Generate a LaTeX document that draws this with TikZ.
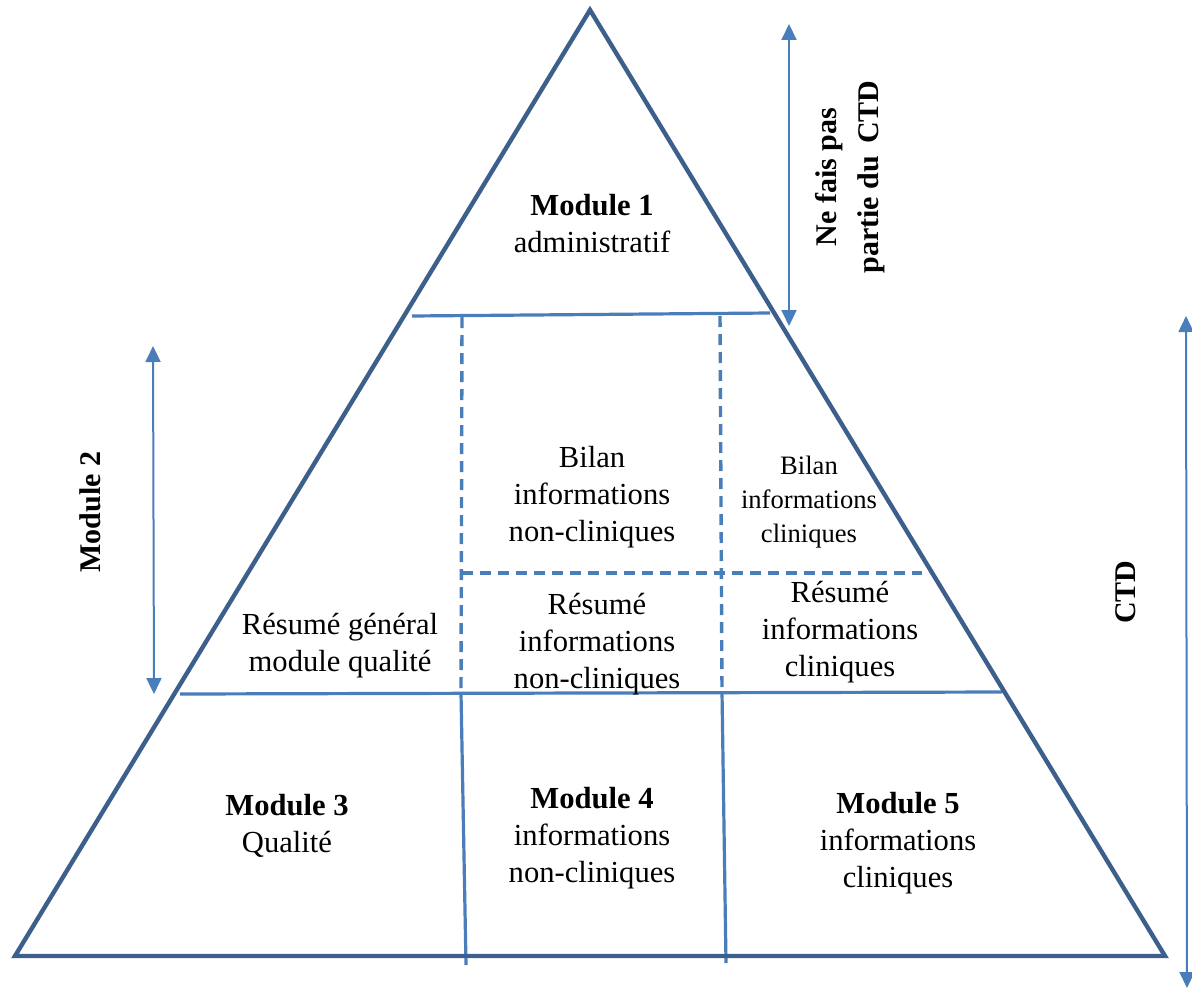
\documentclass[tikz,border=0pt]{standalone}
\usepackage{fontspec}
\setmainfont{Liberation Serif}
\usetikzlibrary{arrows.meta}
\definecolor{tri}{HTML}{3D5F8C}
\definecolor{inner}{HTML}{4A7EBB}
\tikzset{
  triline/.style={draw=tri, line width=2.2pt, line join=miter},
  innerline/.style={draw=inner, line width=1.6pt},
  dashline/.style={draw=inner, line width=1.7pt, dash pattern=on 5.5pt off 3.5pt},
  dimarrow/.style={draw=inner, line width=1pt, {Triangle[width=7.5pt,length=8pt]}-{Triangle[width=7.5pt,length=8pt]}},
  txt/.style={align=center, inner sep=0pt, font=\fontsize{15.3}{18.5}\selectfont},
  smalltxt/.style={align=center, inner sep=0pt, font=\fontsize{13.3}{17}\selectfont},
  sidetxt/.style={align=center, inner sep=0pt, font=\bfseries\fontsize{15}{21}\selectfont, rotate=90}
}
\begin{document}
\begin{tikzpicture}[x=0.5pt, y=-0.5pt]
\useasboundingbox (0,0) rectangle (1192,990);
% triangle corners
\coordinate (apex) at (590,10);
\coordinate (bl) at (15,956);
\coordinate (br) at (1165,956);
% inner coordinates
\coordinate (h1l) at (412,316);
\coordinate (h1r) at (770,313);
\coordinate (h2l) at (180,694);
\coordinate (h2r) at (1002,692);
\coordinate (d1t) at (462,317);
\coordinate (d1b) at (461,693);
\coordinate (d2t) at (720,316);
\coordinate (d2b) at (722,692);
\coordinate (dhl) at (462,573);
\coordinate (dhr) at (922,573);
\coordinate (v1b) at (466,965);
\coordinate (v2b) at (726,963);
% arrows ends
\coordinate (a1t) at (789,24);
\coordinate (a1b) at (789,326);
\coordinate (a2t) at (153,346);
\coordinate (a2b) at (154,694);
\coordinate (a3t) at (1186,316);
\coordinate (a3b) at (1187,988);

% inner lines
\draw[dashline] (d1t) -- (d1b);
\draw[dashline] (d2t) -- (d2b);
\draw[dashline] (dhl) -- (dhr);
\draw[innerline] (h1l) -- (h1r);
\draw[innerline] (h2l) -- (h2r);
\draw[innerline] (d1b) -- (v1b);
\draw[innerline] (d2b) -- (v2b);
% triangle
\draw[triline] (apex) -- (bl) -- (br) -- cycle;
% arrows
\draw[dimarrow] (a1t) -- (a1b);
\draw[dimarrow] (a2t) -- (a2b);
\draw[dimarrow] (a3t) -- (a3b);

% texts
\node[txt] (m1) at (592,224) {\textbf{Module 1}\\administratif};
\node[txt] (bnc) at (592,497) {Bilan\\informations\\non-cliniques};
\node[smalltxt] (bc) at (809,502) {Bilan\\informations\\cliniques};
\node[txt] (rnc) at (597,644) {Résumé\\informations\\non-cliniques};
\node[txt] (rc) at (840,632) {Résumé\\informations\\cliniques};
\node[txt] (rg) at (340,646) {Résumé général\\module qualité};
\node[txt] (m3) at (287,826) {\textbf{Module 3}\\Qualité};
\node[txt] (m4) at (592,838) {\textbf{Module 4}\\informations\\non-cliniques};
\node[txt] (m5) at (898,843) {\textbf{Module 5}\\informations\\cliniques};
\node[sidetxt] (nf) at (850,177) {Ne fais pas\\partie du\, CTD};
\node[sidetxt] (m2) at (90,512) {Module 2};
\node[sidetxt] (ctd) at (1126,592) {CTD};
\end{tikzpicture}
\end{document}
